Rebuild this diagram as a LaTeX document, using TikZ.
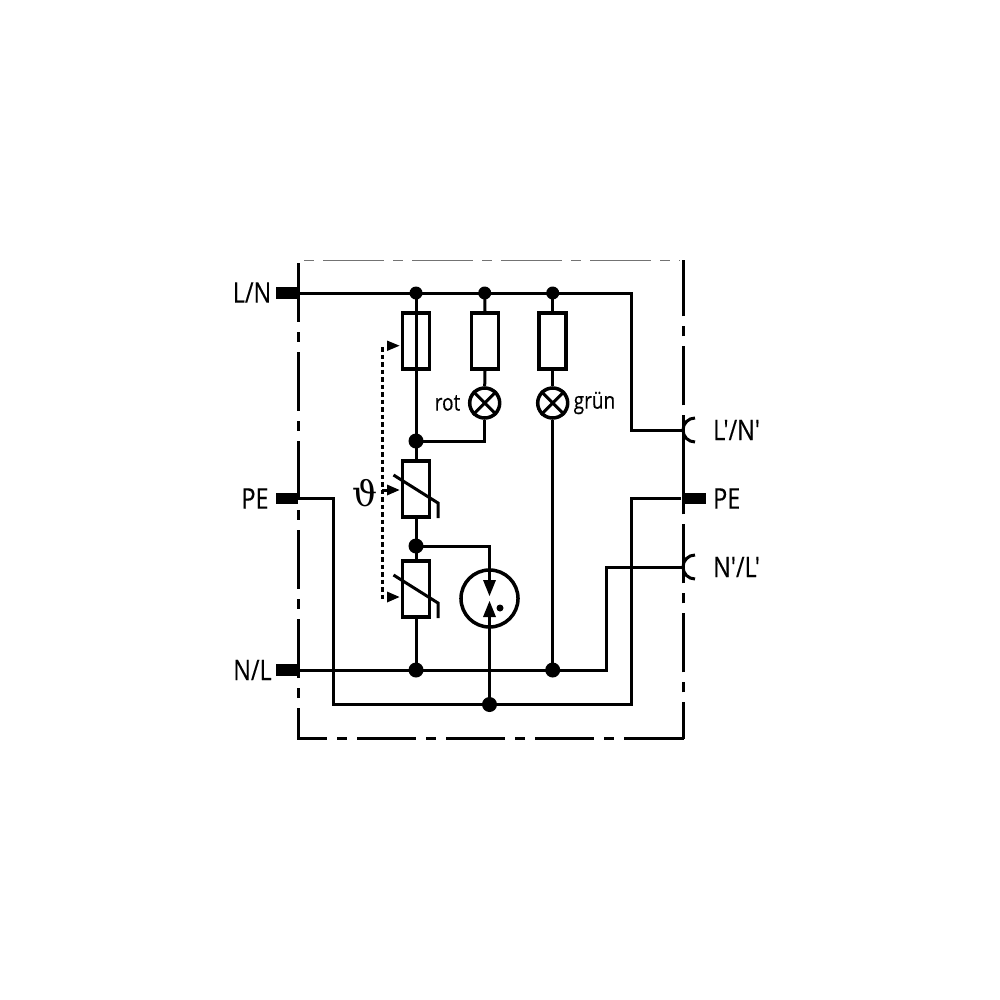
\documentclass[tikz,border=0pt]{standalone}
\usepackage{fontspec}
\newfontfamily\lab[FakeStretch=0.82,FakeBold=0.25]{Open Sans}
\newfontfamily\sym{DejaVu Serif}
\tikzset{
  wire/.style={line width=0.03cm,line cap=butt,line join=miter},
  frame/.style={line width=0.03cm,dash pattern=on 0.59cm off 0.10cm on 0.10cm off 0.10cm},
  topline/.style={line width=0.012cm,draw=black!55,dash pattern=on 0.10cm off 0.09cm on 0.61cm off 0.09cm},
  dotted wire/.style={line width=0.03cm,dash pattern=on 0.045cm off 0.03cm},
  bigdot/.style={circle,fill=black,inner sep=0pt,minimum size=0.15cm},
  smalldot/.style={circle,fill=black,inner sep=0pt,minimum size=0.13cm},
  tinydot/.style={circle,fill=black,inner sep=0pt,minimum size=0.07cm},
  elem/.style={draw,line width=0.035cm,rectangle,inner sep=0pt,minimum width=0.27cm,minimum height=0.56cm},
  lamp/.style={draw,line width=0.035cm,circle,inner sep=0pt,minimum size=0.30cm},
  gap/.style={draw,line width=0.035cm,circle,inner sep=0pt,minimum size=0.57cm},
  term/.style={fill=black,rectangle,inner sep=0pt,minimum width=0.22cm,minimum height=0.115cm},
  biglabel/.style={inner sep=0pt,font=\lab\fontsize{8.1}{8.1}\selectfont},
  smalllabel/.style={inner sep=0pt,font=\lab\fontsize{6.6}{6.6}\selectfont},
}
\begin{document}
\begin{tikzpicture}[x=0.01cm,y=-0.01cm]
\useasboundingbox (0,0) rectangle (1000,1000);
% housing
\draw[frame] (298.5,263) -- (298.5,738.5) -- (683.5,738.5);
\draw[frame,dash phase=0.23cm] (683,738.5) -- (683,260);
\draw[wire] (683,415) -- (683,504);
\draw[topline] (304,260.5) -- (680,260.5);
% terminals
\node[term] (tLN) at (287,293) {};
\node[term] (tPE) at (287,498.5) {};
\node[term] (tNL) at (287,670) {};
\node[term] (tPEr) at (695,498.5) {};
\coordinate (oLN) at (683,430);
\coordinate (oNL) at (683,567);
\draw[wire] (695,442) arc[start angle=90,end angle=270,radius=12];
\draw[wire] (695,579) arc[start angle=90,end angle=270,radius=12];
% elements
\node[elem] (fuse) at (416,341) {};
\node[elem] (rr) at (485,341) {};
\node[elem] (rg) at (552.7,341) {};
\node[elem] (v1) at (416,489) {};
\node[elem] (v2) at (416,589) {};
\node[lamp] (lr) at (484.7,403) {};
\node[lamp] (lg) at (552.7,403) {};
\node[gap] (sg) at (489.5,598.5) {};
\draw[wire] (lr.45) -- (lr.225) (lr.135) -- (lr.315);
\draw[wire] (lg.45) -- (lg.225) (lg.135) -- (lg.315);
% junctions
\node[smalldot] (a) at (416,293) {};
\node[smalldot] (b) at (484.7,293) {};
\node[smalldot] (c) at (552.7,293) {};
\node[bigdot] (d) at (416,441) {};
\node[bigdot] (e) at (416,546) {};
\node[bigdot] (f) at (416,670) {};
\node[bigdot] (g) at (552.7,670) {};
\node[bigdot] (h) at (489.5,704.5) {};
\node[tinydot] (k) at (500,608) {};
% wires
\draw[wire] (tLN.east) -- (a.center) -- (b.center) -- (c.center) -- (631.5,293) |- (oLN);
\draw[wire] (a.center) -- (d.center) -- (v1.north);
\draw[wire] (v1.south) -- (e.center) -- (v2.north);
\draw[wire] (v2.south) -- (f.center);
\draw[wire] (b.center) -- (rr.north);
\draw[wire] (rr.south) -- (lr.north);
\draw[wire] (lr.south) |- (d.center);
\draw[wire] (c.center) -- (rg.north);
\draw[wire] (rg.south) -- (lg.north);
\draw[wire] (lg.south) -- (g.center);
\draw[wire] (tNL.east) -- (f.center) -- (g.center) -- (606.5,670) |- (oNL);
\draw[wire] (tPE.east) -- (333,498.5) |- (h.center);
\draw[wire] (h.center) -- (631.5,704.5) |- (681,498.5);
\coordinate (gt) at (489.5,580);
\coordinate (gb) at (489.5,617);
\draw[wire] (e.center) -| (gt);
\draw[wire] (gb) -- (h.center);
% spark gap arrows
\fill (483,580) -- (496,580) -- (489.5,596) -- cycle;
\fill (483,617) -- (496,617) -- (489.5,601) -- cycle;
% varistor strokes
\draw[wire] (393.5,475) -- (438,503) -- (438,518);
\draw[wire] (393.5,575) -- (438,603) -- (438,618);
% thermal link
\draw[dotted wire] (382,347) -- (382,597) -- (386,597);
\draw[dotted wire] (382,490) -- (387,490);
\fill (387,340.5) -- (399.5,345.7) -- (387,351) -- cycle;
\fill (387,484.5) -- (399.5,490) -- (387,495.5) -- cycle;
\fill (387,591.5) -- (399.5,597) -- (387,602.5) -- cycle;
% labels
\node[biglabel] (l1) at (252,292.5) {L/N};
\node[biglabel] (l2) at (255,498.5) {PE};
\node[biglabel] (l3) at (252.5,670) {N/L};
\node[biglabel,anchor=west] (l4) at (712.5,430) {L'/N'};
\node[biglabel,anchor=west] (l5) at (712.5,498.5) {PE};
\node[biglabel,anchor=west] (l6) at (712.5,567) {N'/L'};
\node[smalllabel,anchor=east] (l7) at (461,403) {rot};
\node[smalllabel,anchor=west] (l8) at (573,403) {grün};
\node[inner sep=0pt,font=\sym\fontsize{10}{10}\selectfont] (l9) at (365.5,493) {ϑ};
\end{tikzpicture}
\end{document}
